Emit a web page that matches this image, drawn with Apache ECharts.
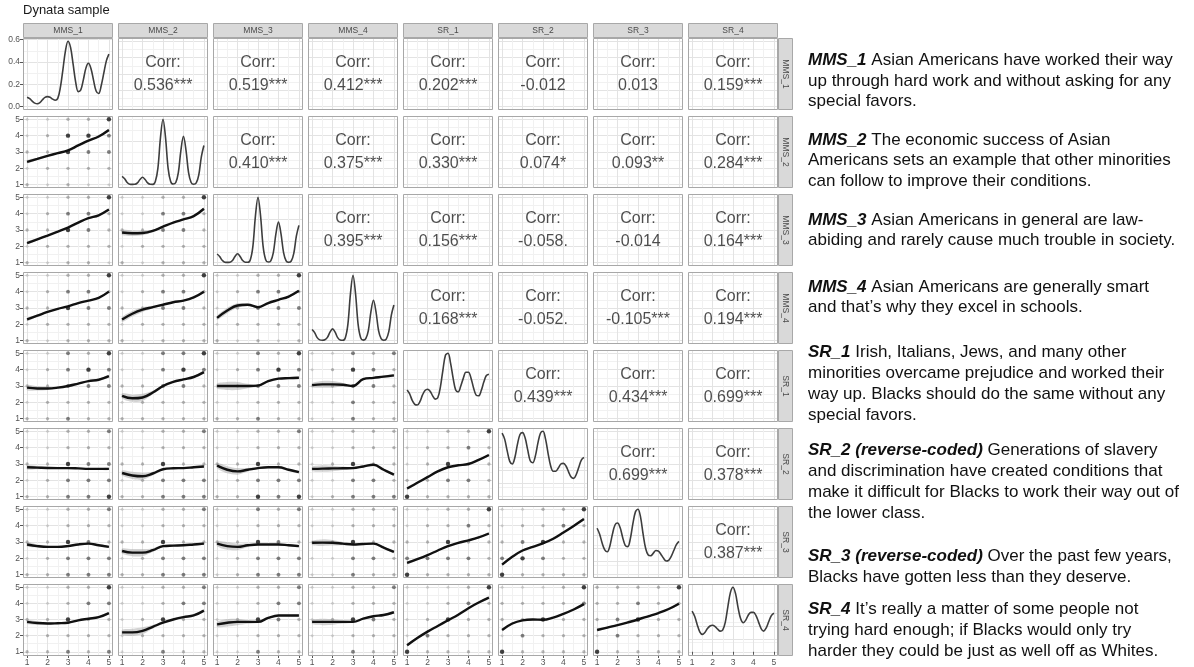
<!DOCTYPE html>
<html>
<head>
<meta charset="utf-8">
<script src="https://cdn.jsdelivr.net/npm/echarts@6/dist/echarts.min.js"></script>
<style>
  html, body { margin: 0; padding: 0; background: #ffffff; }
  #chart { width: 1194px; height: 667px; }
</style>
</head>
<body>
<div id="chart"></div>
<script>
// ---------------- data ----------------
const vars = ['MMS_1', 'MMS_2', 'MMS_3', 'MMS_4', 'SR_1', 'SR_2', 'SR_3', 'SR_4'];
const axisTicks = [1, 2, 3, 4, 5];
const densityTicks = [0, 0.2, 0.4, 0.6];
const fitX = [1, 1.5, 2, 2.5, 3, 3.5, 4, 4.5, 5];
const densX = [1, 1.125, 1.25, 1.375, 1.5, 1.625, 1.75, 1.875, 2, 2.125, 2.25, 2.375, 2.5, 2.625, 2.75, 2.875,
  3, 3.125, 3.25, 3.375, 3.5, 3.625, 3.75, 3.875, 4, 4.125, 4.25, 4.375, 4.5, 4.625, 4.75, 4.875, 5];

// correlations above the diagonal (row variable vs. later column variables)
const corrMMS_1 = [0.536, 0.519, 0.412, 0.202, -0.012, 0.013, 0.159];
const starsMMS_1 = ['***', '***', '***', '***', '', '', '***'];
const corrMMS_2 = [0.410, 0.375, 0.330, 0.074, 0.093, 0.284];
const starsMMS_2 = ['***', '***', '***', '*', '**', '***'];
const corrMMS_3 = [0.395, 0.156, -0.058, -0.014, 0.164];
const starsMMS_3 = ['***', '***', '.', '', '***'];
const corrMMS_4 = [0.168, -0.052, -0.105, 0.194];
const starsMMS_4 = ['***', '.', '***', '***'];
const corrSR_1 = [0.439, 0.434, 0.699];
const starsSR_1 = ['***', '***', '***'];
const corrSR_2 = [0.699, 0.378];
const starsSR_2 = ['***', '***'];
const corrSR_3 = [0.387];
const starsSR_3 = ['***'];

// kernel densities on the diagonal
const densMMS_1 = [0.085, 0.072, 0.050, 0.032, 0.026, 0.036, 0.062, 0.084, 0.090, 0.084, 0.068, 0.058, 0.075, 0.170, 0.330, 0.500, 0.585,
  0.530, 0.380, 0.220, 0.135, 0.150, 0.240, 0.345, 0.388, 0.340, 0.235, 0.140, 0.118, 0.190, 0.300, 0.410, 0.470];
const densMMS_2 = [0.077, 0.055, 0.020, 0.005, 0.003, 0.004, 0.017, 0.048, 0.068, 0.048, 0.017, 0.004, 0.003, 0.030, 0.150, 0.430, 0.600,
  0.430, 0.150, 0.030, 0.006, 0.020, 0.110, 0.315, 0.444, 0.315, 0.110, 0.020, 0.004, 0.016, 0.090, 0.256, 0.360];
const densMMS_3 = [0.080, 0.058, 0.022, 0.005, 0.003, 0.005, 0.020, 0.058, 0.082, 0.058, 0.020, 0.005, 0.004, 0.028, 0.150, 0.430, 0.600,
  0.430, 0.150, 0.028, 0.006, 0.018, 0.093, 0.264, 0.372, 0.264, 0.093, 0.018, 0.004, 0.016, 0.086, 0.243, 0.342];
const densMMS_4 = [0.094, 0.068, 0.026, 0.007, 0.004, 0.008, 0.028, 0.072, 0.100, 0.072, 0.026, 0.006, 0.004, 0.026, 0.138, 0.394, 0.550,
  0.394, 0.138, 0.026, 0.005, 0.017, 0.085, 0.242, 0.340, 0.242, 0.085, 0.017, 0.004, 0.014, 0.076, 0.215, 0.300];
const densSR_1 = [0.44, 0.38, 0.28, 0.22, 0.21, 0.26, 0.36, 0.43, 0.45, 0.42, 0.35, 0.30, 0.32, 0.48, 0.74, 0.97, 1.00,
  0.85, 0.62, 0.44, 0.41, 0.50, 0.62, 0.71, 0.71, 0.62, 0.47, 0.36, 0.35, 0.43, 0.56, 0.66, 0.68];
const densSR_2 = [0.97, 0.88, 0.70, 0.54, 0.50, 0.60, 0.80, 0.95, 0.98, 0.90, 0.72, 0.55, 0.52, 0.62, 0.82, 0.97, 1.00,
  0.88, 0.66, 0.47, 0.39, 0.39, 0.44, 0.50, 0.51, 0.47, 0.38, 0.30, 0.28, 0.34, 0.45, 0.56, 0.60];
const densSR_3 = [0.71, 0.62, 0.48, 0.38, 0.35, 0.44, 0.62, 0.76, 0.79, 0.72, 0.57, 0.45, 0.43, 0.55, 0.78, 0.96, 1.00,
  0.88, 0.62, 0.40, 0.30, 0.29, 0.33, 0.37, 0.36, 0.31, 0.25, 0.21, 0.22, 0.28, 0.37, 0.46, 0.51];
const densSR_4 = [0.63, 0.55, 0.42, 0.31, 0.27, 0.30, 0.36, 0.40, 0.41, 0.39, 0.35, 0.32, 0.34, 0.46, 0.70, 0.92, 1.00,
  0.90, 0.68, 0.51, 0.45, 0.49, 0.57, 0.61, 0.61, 0.56, 0.46, 0.36, 0.32, 0.37, 0.47, 0.56, 0.60];

// loess fits below the diagonal, one per earlier column variable, at fitX
const fitMMS_2 = [[2.40, 2.58, 2.76, 2.93, 3.10, 3.40, 3.70, 3.95, 4.35]];
const seMMS_2 = [[0.10, 0.07, 0.05, 0.04, 0.04, 0.04, 0.04, 0.05, 0.08]];
const fitMMS_3 = [[2.20, 2.43, 2.66, 2.90, 3.15, 3.45, 3.72, 3.90, 4.25],
  [2.85, 2.80, 2.82, 2.95, 3.20, 3.45, 3.65, 3.85, 4.30]];
const seMMS_3 = [[0.09, 0.06, 0.05, 0.04, 0.03, 0.03, 0.03, 0.04, 0.07],
  [0.16, 0.17, 0.14, 0.08, 0.05, 0.04, 0.04, 0.05, 0.08]];
const fitMMS_4 = [[2.30, 2.53, 2.76, 2.95, 3.10, 3.30, 3.45, 3.62, 4.00],
  [2.30, 2.65, 2.90, 3.05, 3.20, 3.35, 3.45, 3.65, 4.00],
  [2.40, 2.85, 3.15, 3.20, 3.05, 3.30, 3.50, 3.70, 4.05]];
const seMMS_4 = [[0.10, 0.06, 0.05, 0.04, 0.03, 0.03, 0.03, 0.04, 0.07],
  [0.15, 0.17, 0.14, 0.08, 0.05, 0.04, 0.04, 0.05, 0.08],
  [0.13, 0.17, 0.14, 0.08, 0.05, 0.04, 0.04, 0.05, 0.07]];
const fitSR_1 = [[2.90, 2.85, 2.85, 2.90, 3.00, 3.15, 3.30, 3.38, 3.60],
  [2.40, 2.25, 2.30, 2.60, 3.00, 3.25, 3.40, 3.55, 3.85],
  [3.00, 3.00, 3.00, 3.00, 3.02, 3.30, 3.45, 3.48, 3.50],
  [3.05, 3.10, 3.10, 3.08, 3.00, 3.42, 3.50, 3.57, 3.65]];
const seSR_1 = [[0.16, 0.13, 0.09, 0.06, 0.05, 0.04, 0.04, 0.05, 0.08],
  [0.16, 0.22, 0.22, 0.11, 0.06, 0.05, 0.05, 0.06, 0.08],
  [0.16, 0.25, 0.25, 0.13, 0.06, 0.05, 0.05, 0.06, 0.08],
  [0.13, 0.21, 0.20, 0.11, 0.05, 0.05, 0.05, 0.06, 0.08]];
const fitSR_2 = [[2.80, 2.78, 2.76, 2.75, 2.75, 2.73, 2.70, 2.70, 2.70],
  [2.45, 2.30, 2.25, 2.42, 2.68, 2.74, 2.75, 2.80, 2.85],
  [2.90, 2.65, 2.55, 2.65, 2.75, 2.80, 2.80, 2.65, 2.50],
  [2.70, 2.72, 2.73, 2.74, 2.75, 2.85, 2.95, 2.65, 2.35],
  [1.50, 1.85, 2.20, 2.55, 2.80, 2.92, 3.00, 3.25, 3.55]];
const seSR_2 = [[0.13, 0.10, 0.07, 0.05, 0.04, 0.04, 0.04, 0.05, 0.07],
  [0.16, 0.22, 0.22, 0.11, 0.06, 0.05, 0.05, 0.06, 0.07],
  [0.16, 0.22, 0.20, 0.11, 0.06, 0.05, 0.05, 0.06, 0.08],
  [0.13, 0.20, 0.17, 0.10, 0.05, 0.05, 0.06, 0.06, 0.08],
  [0.08, 0.06, 0.05, 0.04, 0.04, 0.04, 0.04, 0.05, 0.08]];
const fitSR_3 = [[2.85, 2.75, 2.70, 2.70, 2.75, 2.85, 2.90, 2.80, 2.70],
  [2.45, 2.35, 2.35, 2.50, 2.75, 2.78, 2.80, 2.85, 2.90],
  [2.90, 2.75, 2.70, 2.80, 2.85, 2.85, 2.85, 2.80, 2.75],
  [2.95, 2.96, 2.95, 2.90, 2.85, 2.88, 2.90, 2.65, 2.40],
  [1.72, 1.95, 2.20, 2.48, 2.75, 2.95, 3.10, 3.28, 3.52],
  [1.62, 2.10, 2.48, 2.70, 2.92, 3.20, 3.58, 3.98, 4.40]];
const seSR_3 = [[0.13, 0.10, 0.07, 0.05, 0.04, 0.04, 0.04, 0.05, 0.07],
  [0.16, 0.22, 0.22, 0.11, 0.06, 0.05, 0.05, 0.06, 0.07],
  [0.16, 0.23, 0.20, 0.11, 0.06, 0.05, 0.05, 0.06, 0.07],
  [0.13, 0.20, 0.17, 0.10, 0.05, 0.05, 0.06, 0.06, 0.08],
  [0.08, 0.06, 0.05, 0.04, 0.04, 0.04, 0.04, 0.05, 0.08],
  [0.08, 0.06, 0.05, 0.04, 0.04, 0.04, 0.04, 0.05, 0.08]];
const fitSR_4 = [[2.85, 2.78, 2.75, 2.77, 2.80, 2.95, 3.05, 3.15, 3.40],
  [2.20, 2.20, 2.30, 2.55, 2.80, 3.00, 3.15, 3.25, 3.55],
  [2.70, 2.80, 2.85, 2.85, 2.85, 3.10, 3.25, 3.25, 3.25],
  [2.85, 2.85, 2.85, 2.85, 2.85, 3.05, 3.20, 3.28, 3.45],
  [1.40, 1.85, 2.25, 2.60, 2.95, 3.30, 3.70, 4.05, 4.35],
  [2.35, 2.75, 2.95, 3.00, 2.98, 3.12, 3.35, 3.62, 3.95],
  [2.35, 2.50, 2.65, 2.82, 3.00, 3.20, 3.40, 3.65, 3.98]];
const seSR_4 = [[0.13, 0.10, 0.07, 0.05, 0.04, 0.04, 0.04, 0.05, 0.07],
  [0.16, 0.22, 0.22, 0.11, 0.06, 0.05, 0.05, 0.06, 0.07],
  [0.16, 0.23, 0.20, 0.11, 0.06, 0.05, 0.05, 0.06, 0.07],
  [0.13, 0.20, 0.17, 0.10, 0.05, 0.05, 0.06, 0.06, 0.08],
  [0.08, 0.06, 0.05, 0.04, 0.04, 0.04, 0.04, 0.05, 0.08],
  [0.08, 0.06, 0.05, 0.04, 0.04, 0.04, 0.04, 0.05, 0.08],
  [0.08, 0.06, 0.05, 0.04, 0.04, 0.04, 0.04, 0.05, 0.08]];

// overplotted response pairs: darkness 0-3, rows for y = 5..1, characters for x = 1..5
const dotsMMS_2 = [['00113', '01332', '11322', '01111', '10100']];
const dotsMMS_3 = [['00113', '01221', '11321', '01111', '10110'],
  ['00113', '00221', '11221', '01111', '10111']];
const dotsMMS_4 = [['00113', '01221', '11322', '01111', '10111'],
  ['00113', '01221', '11221', '01111', '10111'],
  ['00113', '01221', '01222', '01111', '10101']];
const dotsSR_1 = [['00213', '01232', '11222', '01111', '11211'],
  ['00223', '00232', '11221', '01111', '11111'],
  ['00213', '01232', '01222', '00111', '11211'],
  ['00212', '01321', '01221', '00211', '00211']];
const dotsSR_2 = [['00112', '00111', '11322', '01222', '11223'],
  ['00112', '00111', '11311', '01222', '11222'],
  ['00112', '00111', '11311', '01222', '11323'],
  ['00111', '00111', '01311', '00221', '01222'],
  ['00113', '01121', '01311', '11221', '31111']];
const dotsSR_3 = [['00112', '00111', '11321', '01222', '11222'],
  ['00112', '00111', '11311', '01222', '11222'],
  ['00212', '00111', '11321', '01222', '01222'],
  ['00111', '00111', '01311', '00221', '00211'],
  ['00113', '01121', '11311', '22221', '31111'],
  ['00113', '01121', '12311', '23211', '31111']];
const dotsSR_4 = [['00113', '00122', '11311', '01111', '11212'],
  ['00112', '00122', '01311', '01111', '00211'],
  ['00112', '00122', '01321', '00111', '00211'],
  ['00112', '00111', '01321', '00111', '00211'],
  ['00013', '00121', '01311', '02111', '31111'],
  ['00013', '11112', '11311', '02111', '31111'],
  ['11113', '11211', '12311', '02111', '31111']];

// item wording shown beside the matrix
const noteLabels = ['MMS_1', 'MMS_2', 'MMS_3', 'MMS_4', 'SR_1', 'SR_2 (reverse-coded)', 'SR_3 (reverse-coded)', 'SR_4'];
const noteLines = [
  [' Asian Americans have worked their way', 'up through hard work and without asking for any', 'special favors.'],
  [' The economic success of Asian', 'Americans sets an example that other minorities', 'can follow to improve their conditions.'],
  [' Asian Americans in general are law-', 'abiding and rarely cause much trouble in society.'],
  [' Asian Americans are generally smart', 'and that\u2019s why they excel in schools.'],
  [' Irish, Italians, Jews, and many other', 'minorities overcame prejudice and worked their', 'way up. Blacks should do the same without any', 'special favors.'],
  [' Generations of slavery', 'and discrimination have created conditions that', 'make it difficult for Blacks to work their way out of', 'the lower class.'],
  [' Over the past few years,', 'Blacks have gotten less than they deserve.'],
  [' It\u2019s really a matter of some people not', 'trying hard enough; if Blacks would only try', 'harder they could be just as well off as Whites.']
];

// ---------------- lookup tables built from the arrays above ----------------
const corrRows = [corrMMS_1, corrMMS_2, corrMMS_3, corrMMS_4, corrSR_1, corrSR_2, corrSR_3];
const starRows = [starsMMS_1, starsMMS_2, starsMMS_3, starsMMS_4, starsSR_1, starsSR_2, starsSR_3];
const densRows = [densMMS_1, densMMS_2, densMMS_3, densMMS_4, densSR_1, densSR_2, densSR_3, densSR_4];
const fitRows = [null, fitMMS_2, fitMMS_3, fitMMS_4, fitSR_1, fitSR_2, fitSR_3, fitSR_4];
const seRows = [null, seMMS_2, seMMS_3, seMMS_4, seSR_1, seSR_2, seSR_3, seSR_4];
const dotRows = [null, dotsMMS_2, dotsMMS_3, dotsMMS_4, dotsSR_1, dotsSR_2, dotsSR_3, dotsSR_4];

// ---------------- layout & style ----------------
const FONT = "'Liberation Sans', Arial, Helvetica, sans-serif";
const L0 = 23, T0 = 38, PW = 90, PH = 72, DX = 95, DY = 78;
const STRIP_H = 15, STRIP_W = 15;
const GRID_MAJOR = '#e3e3e3', GRID_MINOR = '#f1f1f1', BORDER = '#a8a8a8';
const dotColors = ['rgba(0,0,0,0.17)', 'rgba(0,0,0,0.33)', 'rgba(0,0,0,0.60)', 'rgba(0,0,0,0.92)'];
const dotSizes = [3, 3.3, 3.9, 4.4];
const noteCenters = [[60, 81, 101.5], [140, 160.5, 181], [220, 240.5], [287, 307.5],
  [352, 373, 394, 415], [450, 471, 492, 513], [556, 577], [609, 630, 651]];

function baseAxis(gridIndex, showText, extra) {
  return Object.assign({
    type: 'value', gridIndex: gridIndex, min: 0.8, max: 5.2, splitNumber: 5,
    axisLine: { show: false },
    axisTick: { show: showText, customValues: axisTicks, length: 3, lineStyle: { color: '#555', width: 1 } },
    axisLabel: {
      show: showText, customValues: axisTicks, fontSize: 8.5, color: '#555', margin: 3, fontFamily: FONT,
      formatter: v => (Number.isInteger(v) ? String(v) : '')
    },
    splitLine: { show: true, lineStyle: { color: GRID_MAJOR, width: 1 } },
    minorTick: { show: false, splitNumber: 2 },
    minorSplitLine: { show: true, lineStyle: { color: GRID_MINOR, width: 1 } }
  }, extra || {});
}

const grids = [], xAxes = [], yAxes = [], series = [], graphics = [];

for (let r = 0; r < 8; r++) {
  for (let c = 0; c < 8; c++) {
    const gi = r * 8 + c;
    const left = L0 + c * DX, top = T0 + r * DY;
    grids.push({ left: left, top: top, width: PW, height: PH, show: false });
    xAxes.push(baseAxis(gi, r === 7));

    if (r === c) {
      // density panel with its own vertical scale
      const d = densRows[r];
      const peak = Math.max.apply(null, d);
      const isFirst = r === 0;
      yAxes.push(baseAxis(gi, isFirst, {
        min: -0.05 * peak, max: 1.05 * peak, splitNumber: 3,
        axisTick: { show: isFirst, customValues: densityTicks, length: 3, lineStyle: { color: '#555', width: 1 } },
        axisLabel: {
          show: isFirst, customValues: densityTicks, fontSize: 8.5, color: '#555', margin: 3, fontFamily: FONT,
          formatter: v => v.toFixed(1)
        }
      }));
      series.push({
        type: 'line', xAxisIndex: gi, yAxisIndex: gi, smooth: 0.35, showSymbol: false, silent: true,
        data: densX.map((x, k) => [x, d[k]]),
        lineStyle: { color: '#3d3d3d', width: 1.6 }, z: 3
      });
    } else {
      yAxes.push(baseAxis(gi, c === 0));
    }

    if (c > r) {
      // correlation text
      const v = corrRows[r][c - r - 1];
      const s = starRows[r][c - r - 1];
      series.push({
        type: 'scatter', xAxisIndex: gi, yAxisIndex: gi, silent: true, symbolSize: 0,
        data: [[3, 3]],
        label: {
          show: true, position: 'inside', formatter: 'Corr:\n' + v.toFixed(3) + s,
          fontSize: 16, lineHeight: 23, color: '#1f1f1f', fontFamily: FONT
        }
      });
    }

    if (c < r) {
      const fit = fitRows[r][c];
      const se = seRows[r][c];
      const dots = dotRows[r][c];
      const pts = [];
      dots.forEach((row, k) => {
        for (let j = 0; j < 5; j++) pts.push([j + 1, 5 - k, Number(row[j])]);
      });
      series.push({
        type: 'scatter', xAxisIndex: gi, yAxisIndex: gi, silent: true, data: pts,
        symbolSize: v => dotSizes[v[2]],
        itemStyle: { color: p => dotColors[p.data[2]] }, z: 2
      });
      const band = fitX.map((x, k) => [x, fit[k] - se[k], fit[k] + se[k]]);
      series.push({
        type: 'custom', xAxisIndex: gi, yAxisIndex: gi, silent: true, data: band, z: 3,
        renderItem: (params, api) => {
          if (params.dataIndex !== 0) return null;
          const up = band.map(b => api.coord([b[0], b[2]]));
          const lo = band.map(b => api.coord([b[0], b[1]])).reverse();
          return { type: 'polygon', shape: { points: up.concat(lo), smooth: 0.25 },
            style: { fill: 'rgba(150,150,150,0.42)' } };
        }
      });
      series.push({
        type: 'line', xAxisIndex: gi, yAxisIndex: gi, smooth: 0.4, showSymbol: false, silent: true,
        data: fitX.map((x, k) => [x, fit[k]]),
        lineStyle: { color: '#111', width: 2.4 }, z: 4
      });
    }

    // panel border
    graphics.push({
      type: 'rect', silent: true, z: 50,
      shape: { x: left + 0.5, y: top + 0.5, width: PW - 1, height: PH - 1 },
      style: { fill: null, stroke: BORDER, lineWidth: 1 }
    });
  }
}

// column strips on top, row strips on the right
vars.forEach((name, k) => {
  const sx = L0 + k * DX;
  graphics.push({
    type: 'rect', silent: true, z: 50,
    shape: { x: sx + 0.5, y: T0 - STRIP_H + 0.5, width: PW - 1, height: STRIP_H - 1 },
    style: { fill: '#d9d9d9', stroke: BORDER, lineWidth: 1 }
  });
  graphics.push({
    type: 'text', silent: true, z: 51, x: sx + PW / 2, y: T0 - STRIP_H / 2,
    style: { text: name, fontSize: 8.5, fontFamily: FONT, fill: '#4a4a4a', align: 'center', verticalAlign: 'middle' }
  });
  const sy = T0 + k * DY;
  const rx = L0 + 7 * DX + PW;
  graphics.push({
    type: 'rect', silent: true, z: 50,
    shape: { x: rx + 0.5, y: sy + 0.5, width: STRIP_W - 1, height: PH - 1 },
    style: { fill: '#d9d9d9', stroke: BORDER, lineWidth: 1 }
  });
  graphics.push({
    type: 'text', silent: true, z: 51, x: rx + STRIP_W / 2, y: sy + PH / 2, rotation: -Math.PI / 2,
    style: { text: name, fontSize: 8.5, fontFamily: FONT, fill: '#4a4a4a', align: 'center', verticalAlign: 'middle' }
  });
});

// title
graphics.push({
  type: 'text', silent: true, z: 51, x: 23, y: 10,
  style: { text: 'Dynata sample', fontSize: 13, fontFamily: FONT, fill: '#1a1a1a', verticalAlign: 'middle' }
});

// item wording
const NOTE_X = 808;
noteLines.forEach((lines, p) => {
  lines.forEach((line, k) => {
    const text = k === 0 ? '{b|' + noteLabels[p] + '}' + line : line;
    graphics.push({
      type: 'text', silent: true, z: 51, x: NOTE_X, y: noteCenters[p][k],
      style: {
        text: text, fontSize: 17, fontFamily: FONT, fill: '#111', verticalAlign: 'middle',
        rich: { b: { fontSize: 17, fontFamily: FONT, fontStyle: 'italic', fontWeight: 'bold', fill: '#111' } }
      }
    });
  });
});

const chart = echarts.init(document.getElementById('chart'));
chart.setOption({
  animation: false,
  backgroundColor: '#ffffff',
  grid: grids,
  xAxis: xAxes,
  yAxis: yAxes,
  series: series,
  graphic: { elements: graphics }
});
</script>
</body>
</html>
